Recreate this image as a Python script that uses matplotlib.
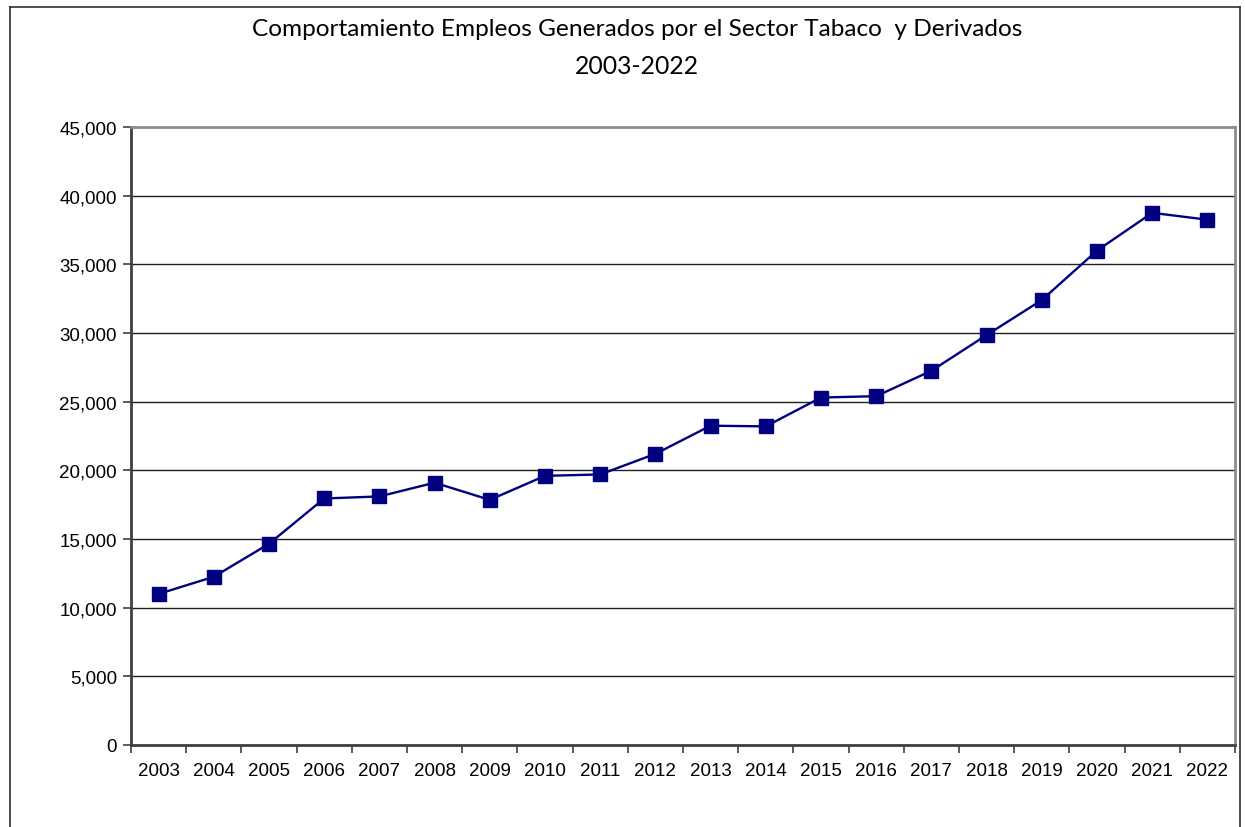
import numpy as np
import matplotlib.pyplot as plt
from matplotlib.lines import Line2D

#### data ####
years = ['2003', '2004', '2005', '2006', '2007', '2008', '2009', '2010', '2011', '2012',
         '2013', '2014', '2015', '2016', '2017', '2018', '2019', '2020', '2021', '2022']
empleos = [11000, 12250, 14650, 17950, 18100, 19100, 17850, 19600, 19700, 21200,
           23250, 23200, 25300, 25400, 27250, 29850, 32400, 36000, 38750, 38250]
yticks = np.arange(0, 45001, 5000)
########################################

W, H = 1245, 828
fig = plt.figure(figsize=(W / 100, H / 100), dpi=100)
ax = fig.add_axes([131 / W, 1 - 746 / H, (1235 - 131) / W, (746 - 128) / H])

x = np.arange(len(years))
ax.plot(x, empleos, color='#000080', lw=1.7, marker='s', markersize=10,
        markerfacecolor='#000080', markeredgecolor='#000080', zorder=3)

ax.set_xlim(-0.5, len(years) - 0.5)
ax.set_ylim(0, 45000)

# y axis
ax.set_yticks(yticks)
ax.set_yticklabels([f'{v:,}' for v in yticks], family='Liberation Sans', fontsize=13.5)
ax.yaxis.grid(True, color='#202020', lw=1)
ax.set_axisbelow(True)

# x axis: labels at centres, tick marks at boundaries
ax.set_xticks(x)
ax.set_xticklabels(years, family='Liberation Sans', fontsize=13.5)
ax.tick_params(axis='x', which='major', length=0, pad=12)
ax.set_xticks(np.arange(-0.5, len(years)), minor=True)
ax.tick_params(axis='x', which='minor', length=6, width=1.2, color='#404040', direction='out')
ax.tick_params(axis='y', length=6, width=1.2, color='#404040', pad=4)

for s in ['left', 'bottom']:
    ax.spines[s].set_color('#404040')
    ax.spines[s].set_linewidth(2)
for s in ['top', 'right']:
    ax.spines[s].set_color('#8c8c8c')
    ax.spines[s].set_linewidth(2)

# titles
fig.text(637 / W, 1 - 30 / H, 'Comportamiento Empleos Generados por el Sector Tabaco  y Derivados',
         ha='center', va='center', family='Lato', fontsize=17.6)
fig.text(637 / W, 1 - 66 / H, '2003-2022', ha='center', va='center', family='Lato', fontsize=17.8)

# caption at top-left, cut by the page edge as in the source
fig.text(14 / W, 1 - 4 / H, 'Gráfico No. 5', ha='left', va='bottom', color='#0000ee',
         family='Liberation Serif', fontweight='bold', fontsize=12)

# outer chart border
bx0, bx1, by0 = 10 / W, 1240 / W, 1 - 8 / H
fig.add_artist(Line2D([bx0, bx0], [0, by0], color='#303030', lw=1.2, transform=fig.transFigure))
fig.add_artist(Line2D([bx0, bx1], [by0, by0], color='#303030', lw=1.2, transform=fig.transFigure))
fig.add_artist(Line2D([bx1, bx1], [0, by0], color='#303030', lw=1.2, transform=fig.transFigure))

plt.savefig('out.png', dpi=100)
